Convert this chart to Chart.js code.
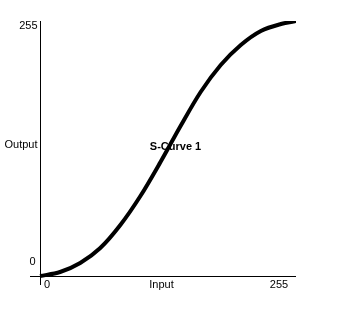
<!DOCTYPE html>
<html>
<head>
<meta charset="utf-8">
<script src="https://cdn.jsdelivr.net/npm/chart.js@4/dist/chart.umd.min.js"></script>
<style>
  html, body { margin: 0; padding: 0; background: #fff; }
  #curveChart { display: block; }
</style>
</head>
<body>
<canvas id="curveChart" width="361" height="309"></canvas>
<script>
// Valores
const inputs = [0, 20, 40, 60, 80, 100, 120, 140, 160, 180, 200, 220, 240, 255];
const outputs = [0, 4, 13, 28, 51, 80, 114, 150, 184, 211, 231, 245, 252, 255];
const xLabels = ['0', 'Input', '255'];
const yLabels = ['0', 'Output', '255'];
const curveName = 'S-Curve 1';

document.addEventListener('DOMContentLoaded', function () {
    const font = '11px "Liberation Sans", Arial, sans-serif';

    // Ejes y textos dibujados a mano
    const axesPlugin = {
        id: 'axesPlugin',
        afterDatasetsDraw(chart) {
            const ctx = chart.ctx;
            const area = chart.chartArea;
            const x = chart.scales.x;
            const y = chart.scales.y;
            const x0 = Math.round(x.getPixelForValue(0)) + 0.5;
            const y0 = Math.round(y.getPixelForValue(0)) + 0.5;
            ctx.save();
            ctx.strokeStyle = '#000';
            ctx.lineWidth = 1;
            ctx.beginPath();
            ctx.moveTo(x0, area.top);
            ctx.lineTo(x0, area.bottom);
            ctx.moveTo(area.left, y0);
            ctx.lineTo(area.right, y0);
            ctx.stroke();

            ctx.fillStyle = '#000';
            ctx.font = font;
            ctx.textBaseline = 'middle';
            // etiquetas eje Y
            ctx.textAlign = 'right';
            ctx.fillText(yLabels[2], x0 - 3, y.getPixelForValue(250));
            ctx.fillText(yLabels[1], x0 - 3, y.getPixelForValue(131));
            ctx.fillText(yLabels[0], x0 - 5, y.getPixelForValue(14));
            // etiquetas eje X
            ctx.textAlign = 'center';
            const ly = y0 + 8.5;
            ctx.fillText(xLabels[0], x.getPixelForValue(7), ly);
            ctx.fillText(xLabels[1], x.getPixelForValue(121), ly);
            ctx.fillText(xLabels[2], x.getPixelForValue(238), ly);
            // nombre de la curva
            ctx.font = 'bold 11px "Liberation Sans", Arial, sans-serif';
            ctx.fillText(curveName, x.getPixelForValue(135), y.getPixelForValue(129));
            ctx.restore();
        }
    };

    const chartCtx = document.getElementById('curveChart').getContext('2d');
    const curveChart = new Chart(chartCtx, {
        type: 'line',
        data: {
            datasets: [{
                label: curveName,
                data: inputs.map((v, i) => ({ x: v, y: outputs[i] })),
                borderColor: '#000',
                borderWidth: 4,
                pointRadius: 0,
                fill: false,
                cubicInterpolationMode: 'monotone'
            }]
        },
        options: {
            responsive: false,
            animation: false,
            layout: {
                padding: { left: 30, top: 21, right: 65, bottom: 24 }
            },
            scales: {
                x: { type: 'linear', min: -10, max: 255, display: false },
                y: { type: 'linear', min: -9, max: 255, display: false }
            },
            plugins: {
                legend: { display: false },
                tooltip: { enabled: false }
            }
        },
        plugins: [axesPlugin]
    });
});
</script>
</body>
</html>
